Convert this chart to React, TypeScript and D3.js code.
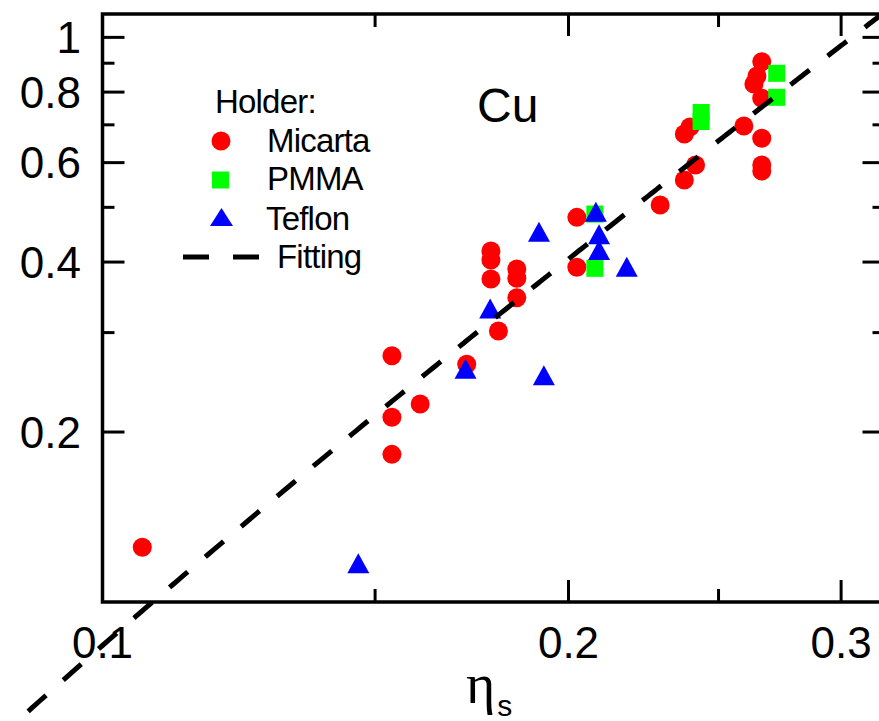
import { useRef, useEffect } from 'react';
import { select, scaleLog, line, range } from 'd3';

const width = 879;
const height = 721;

// Micarta holder
const micartaX = [0.1061, 0.1538, 0.1538, 0.1538, 0.1604, 0.1719, 0.1802, 0.1782, 0.1782, 0.1782,
    0.1852, 0.1852, 0.1852, 0.2025, 0.2025, 0.2292, 0.2376, 0.2416, 0.2376, 0.2396,
    0.2596, 0.2666, 0.2647, 0.2635, 0.2666, 0.2666, 0.2666, 0.2666];
const micartaY = [0.125, 0.273, 0.2124, 0.1826, 0.2242, 0.2636, 0.3019, 0.4184, 0.4034, 0.3733,
    0.3888, 0.3744, 0.3458, 0.480, 0.3915, 0.5048, 0.5591, 0.5941, 0.6742, 0.6937,
    0.6966, 0.9056, 0.8543, 0.8269, 0.780, 0.6625, 0.5941, 0.5798];

// PMMA holder
const pmmaX = [0.2080, 0.2080, 0.2436, 0.2436, 0.2726, 0.2726];
const pmmaY = [0.4865, 0.3899, 0.7360, 0.7096, 0.8637, 0.7832];

// Teflon holder
const teflonX = [0.1463, 0.1716, 0.1928, 0.1780, 0.1914, 0.2083, 0.2093, 0.2093, 0.2181];
const teflonY = [0.1171, 0.2588, 0.2521, 0.3310, 0.4527, 0.4911, 0.4479, 0.4201, 0.3925];

// fitting curve  y = A (x - x0)^2
const fitA = 12.04;
const fitX0 = 0.0166;

const xMajor = [0.1, 0.2, 0.3];
const xMinor = [0.15, 0.25];
const yMajor = [0.2, 0.4, 0.6, 0.8, 1];
const yMinor = [0.3, 0.5, 0.7, 0.9];
const xLabels = ['0.1', '0.2', '0.3'];
const yLabels = ['0.2', '0.4', '0.6', '0.8', '1'];

const RED = '#ff0000';
const GREEN = '#00ff00';
const BLUE = '#0000ff';
const font = 'Liberation Sans, Arial, sans-serif';

const triPath = (w, h) => `M0,${-h / 2}L${w / 2},${h / 2}L${-w / 2},${h / 2}Z`;

const App = () => {
    const ref = useRef(null);

    useEffect(() => {
        if (!ref.current) return;
        const svg = select(ref.current);
        svg.selectAll('*').remove();

        const x = scaleLog().domain([0.1, 0.32]).range([102.5, 884.5]);
        const y = scaleLog().domain([0.1, 1.1]).range([602, 14]);

        const [left, right] = x.range();
        const [bottom, top] = y.range();

        // frame
        svg.append('rect')
            .attr('x', left).attr('y', top)
            .attr('width', right - left).attr('height', bottom - top)
            .attr('fill', 'none').attr('stroke', '#000').attr('stroke-width', 3.5);

        const ticks = svg.append('g').attr('stroke', '#000').attr('stroke-width', 3);
        const xt = (vals, len) => vals.forEach(v => {
            ticks.append('line').attr('x1', x(v)).attr('x2', x(v)).attr('y1', bottom).attr('y2', bottom - len);
            ticks.append('line').attr('x1', x(v)).attr('x2', x(v)).attr('y1', top).attr('y2', top + len);
        });
        const yt = (vals, len) => vals.forEach(v => {
            ticks.append('line').attr('y1', y(v)).attr('y2', y(v)).attr('x1', left).attr('x2', left + len);
            ticks.append('line').attr('y1', y(v)).attr('y2', y(v)).attr('x1', right).attr('x2', right - len);
        });
        xt(xMajor.slice(1), 22);
        xt(xMinor, 13);
        yt(yMajor, 22);
        yt(yMinor, 12);

        // tick labels
        svg.append('g').selectAll('text').data(xMajor).enter().append('text')
            .attr('x', d => x(d)).attr('y', 658)
            .attr('text-anchor', 'middle')
            .attr('font-family', font).attr('font-size', 44)
            .text((d, i) => xLabels[i]);
        svg.append('g').selectAll('text').data(yMajor).enter().append('text')
            .attr('x', 81).attr('y', d => y(d) + 15.5)
            .attr('text-anchor', 'end')
            .attr('font-family', font).attr('font-size', 44)
            .text((d, i) => yLabels[i]);

        // axis title
        const title = svg.append('text')
            .attr('x', 466).attr('y', 703)
            .attr('font-family', 'Liberation Serif, serif').attr('font-size', 56)
            .text('η');
        title.append('tspan').attr('font-family', font).attr('font-size', 30).attr('dx', 2).attr('dy', 13).text('s');

        svg.append('text')
            .attr('x', 477).attr('y', 122)
            .attr('font-family', font).attr('font-size', 48)
            .text('Cu');

        // data
        svg.append('g').selectAll('circle').data(micartaX).enter().append('circle')
            .attr('cx', d => x(d)).attr('cy', (d, i) => y(micartaY[i]))
            .attr('r', 9.5).attr('fill', RED);

        svg.append('g').selectAll('rect').data(pmmaX).enter().append('rect')
            .attr('x', d => x(d) - 8.5).attr('y', (d, i) => y(pmmaY[i]) - 8.5)
            .attr('width', 17).attr('height', 17).attr('fill', GREEN);

        svg.append('g').selectAll('path').data(teflonX).enter().append('path')
            .attr('d', triPath(22, 20))
            .attr('transform', (d, i) => `translate(${x(d)},${y(teflonY[i])})`)
            .attr('fill', BLUE);

        // fitting line
        const xEnd = fitX0 + Math.sqrt(1.1 / fitA);
        const fitXs = range(0.085, xEnd, 0.001).concat([xEnd]);
        const fit = line()
            .x(d => x(d))
            .y(d => y(fitA * (d - fitX0) ** 2));
        svg.append('path')
            .attr('d', fit(fitXs))
            .attr('fill', 'none').attr('stroke', '#000').attr('stroke-width', 5)
            .attr('stroke-dasharray', '24,23');

        // legend
        const lg = svg.append('g').attr('font-family', font).attr('font-size', 33).attr('letter-spacing', -0.8);
        lg.append('text').attr('x', 215).attr('y', 113).text('Holder:');
        lg.append('circle').attr('cx', 221).attr('cy', 141).attr('r', 9.5).attr('fill', RED);
        lg.append('text').attr('x', 267).attr('y', 152).text('Micarta');
        lg.append('rect').attr('x', 212).attr('y', 171.5).attr('width', 17).attr('height', 17).attr('fill', GREEN);
        lg.append('text').attr('x', 267).attr('y', 190).text('PMMA');
        lg.append('path').attr('d', triPath(23, 18)).attr('transform', 'translate(221.5,217)').attr('fill', BLUE);
        lg.append('text').attr('x', 266).attr('y', 230).text('Teflon');
        lg.append('line').attr('x1', 183).attr('x2', 259).attr('y1', 257).attr('y2', 257)
            .attr('stroke', '#000').attr('stroke-width', 5).attr('stroke-dasharray', '26,24');
        lg.append('text').attr('x', 277).attr('y', 268).text('Fitting');
    }, []);

    return (
        <svg
            ref={ref}
            width={width}
            height={height}
            style={{ position: 'absolute', left: 0, top: 0, background: '#fff' }}
        ></svg>
    );
};

export default App;
